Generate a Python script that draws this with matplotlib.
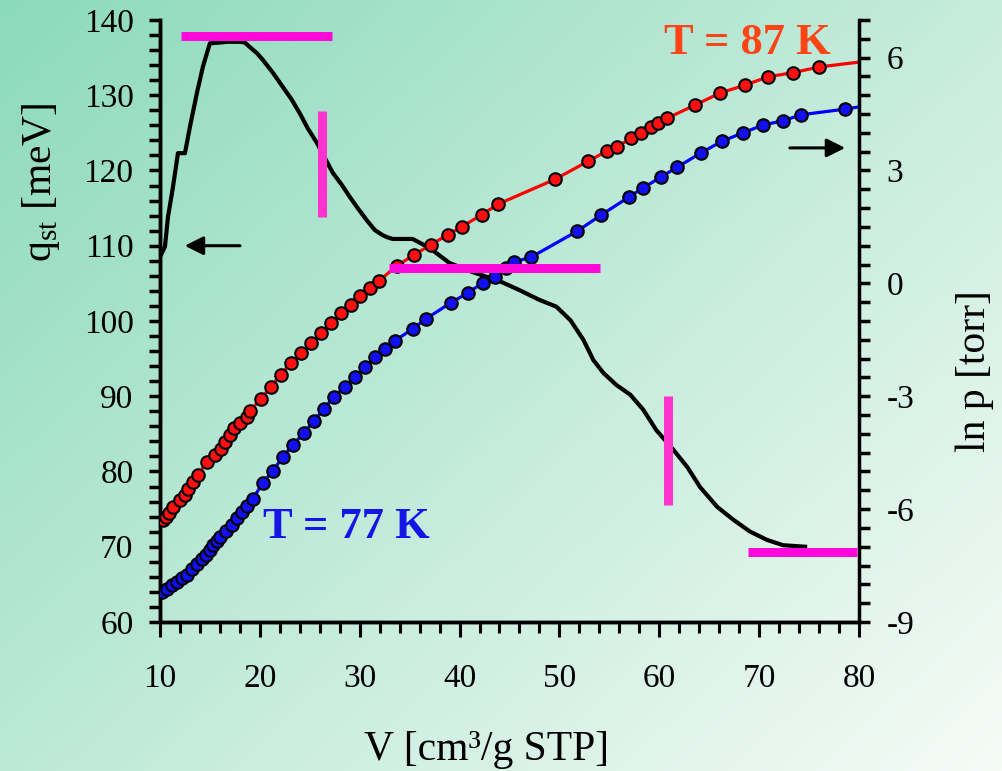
import matplotlib
matplotlib.use("Agg")
import matplotlib.pyplot as plt
from matplotlib.ticker import MultipleLocator
import numpy as np

plt.rcParams['font.family'] = ['Liberation Serif', 'DejaVu Serif']
plt.rcParams['mathtext.fontset'] = 'custom'
plt.rcParams['mathtext.rm'] = 'Liberation Serif'
plt.rcParams['axes.unicode_minus'] = False

# isosteric heat (left axis)
v_q = [10.0, 10.5, 10.8, 11.3, 11.8, 12.5, 13.0, 13.7, 14.3, 15.0, 16.0, 16.7, 18.0,
       18.5, 19.0, 19.7, 20.3, 21.3, 22.3, 23.2, 24.0, 24.8, 25.7, 26.5, 27.3, 28.2,
       29.0, 29.8, 30.7, 31.5, 32.3, 32.8, 33.3, 35.3, 37.0, 39.0, 41.3, 44.0, 46.0,
       48.0, 49.7, 51.1, 52.4, 53.4, 54.4, 55.7, 57.1, 58.4, 59.7, 61.4, 62.8, 64.1,
       65.8, 67.4, 69.1, 70.8, 72.4, 74.6]
q_st = [108.5, 109.9, 113.8, 117.8, 122.3, 122.3, 125.8, 130.3, 133.8, 136.9, 137.0,
        137.1, 137.1, 137.0, 136.4, 135.6, 134.7, 133.0, 131.1, 129.4, 127.6, 125.6,
        123.7, 121.7, 119.7, 118.1, 116.5, 115.0, 113.4, 112.1, 111.4, 111.1, 110.9,
        110.9, 109.7, 107.7, 106.5, 105.3, 104.1, 102.8, 101.9, 100.1, 97.5, 94.8,
        93.1, 91.5, 90.2, 88.2, 85.5, 82.9, 80.6, 77.9, 75.3, 73.6, 72.0, 70.9, 70.2,
        70.0]

# ln p isotherms (right axis)
v_87 = [10.3, 10.6, 10.9, 11.3, 12.0, 12.5, 12.8, 13.3, 13.8, 14.7, 15.5, 16.1, 16.5,
        17.0, 17.4, 18.0, 18.7, 19.0, 20.1, 21.1, 22.1, 23.1, 24.1, 25.1, 26.1, 27.1,
        28.1, 29.1, 30.0, 31.0, 31.9, 33.7, 35.4, 37.1, 38.8, 40.2, 42.2, 43.9, 49.6,
        52.9, 54.8, 55.8, 57.2, 58.2, 59.2, 59.9, 60.8, 63.6, 66.1, 68.6, 70.9, 73.4, 76.0]
lnp_87 = [-6.29, -6.21, -6.10, -5.94, -5.76, -5.62, -5.46, -5.28, -5.09, -4.75, -4.56,
          -4.40, -4.21, -4.03, -3.84, -3.71, -3.55, -3.39, -3.07, -2.75, -2.43, -2.11,
          -1.85, -1.58, -1.32, -1.05, -0.79, -0.57, -0.33, -0.12, 0.06, 0.46, 0.75, 1.02,
          1.29, 1.50, 1.82, 2.11, 2.77, 3.25, 3.52, 3.63, 3.86, 4.00, 4.16, 4.26, 4.39,
          4.74, 5.06, 5.27, 5.49, 5.60, 5.75]
v_87_line = [10.0] + v_87 + [80.0]
lnp_87_line = [-6.5] + lnp_87 + [5.88]

v_77 = [10.2, 10.7, 11.2, 11.7, 12.2, 12.7, 13.2, 13.7, 14.2, 14.6, 15.0, 15.3, 15.7,
        16.0, 16.6, 17.2, 17.7, 18.2, 18.7, 19.3, 20.3, 21.3, 22.3, 23.3, 24.4, 25.4,
        26.4, 27.4, 28.5, 29.5, 30.5, 31.5, 32.5, 33.5, 35.3, 36.6, 39.1, 40.8, 42.3,
        43.6, 44.7, 45.5, 47.2, 51.8, 54.2, 57.0, 58.4, 60.2, 61.8, 64.2, 66.3, 68.4,
        70.4, 72.4, 74.2, 78.6]
lnp_77 = [-8.20, -8.12, -8.01, -7.93, -7.83, -7.75, -7.59, -7.46, -7.32, -7.22, -7.09,
          -6.96, -6.85, -6.74, -6.58, -6.42, -6.23, -6.07, -5.91, -5.73, -5.30, -4.99,
          -4.61, -4.30, -3.98, -3.66, -3.34, -3.02, -2.75, -2.49, -2.22, -1.96, -1.74,
          -1.53, -1.21, -0.95, -0.52, -0.26, 0.01, 0.17, 0.40, 0.57, 0.70, 1.39, 1.82,
          2.30, 2.54, 2.83, 3.09, 3.47, 3.78, 4.00, 4.21, 4.32, 4.48, 4.63]
v_77_line = [10.0] + v_77 + [80.0]
lnp_77_line = [-8.3] + lnp_77 + [4.69]

fig = plt.figure(figsize=(10.03, 7.71), dpi=100)

# diagonal green-to-white background
bg = fig.add_axes([0, 0, 1, 1], zorder=-1)
gx, gy = np.meshgrid(np.linspace(0, 1, 300), np.linspace(0, 1, 240))
t = (gx * 0.55 + gy * 0.45)[..., None]
c0 = np.array([140, 218, 188]) / 255
c1 = np.array([246, 251, 248]) / 255
bg.imshow(c0 + (c1 - c0) * t, aspect='auto', extent=[0, 1, 1, 0])
bg.axis('off')

ax = fig.add_axes([0.1595, 0.1933, 0.6969, 0.7808])
ax.patch.set_alpha(0)
ax2 = ax.twinx()

ax.plot(v_q, q_st, color='black', lw=3, zorder=3)
ax2.plot(v_87_line, lnp_87_line, color='#ff0000', lw=2.3, zorder=2)
ax2.plot(v_87, lnp_87, 'o', ms=9, mfc='#ff1010', mec='black', mew=1.5, zorder=3)
ax2.plot(v_77_line, lnp_77_line, color='#0000ff', lw=2.3, zorder=2)
ax2.plot(v_77, lnp_77, 'o', ms=9, mfc='#1010f0', mec='black', mew=1.5, zorder=3)

ax.set_xlim(10, 80)
ax.set_ylim(60, 140)
ax2.set_ylim(-9, 7)
ax.xaxis.set_major_locator(MultipleLocator(10))
ax.xaxis.set_minor_locator(MultipleLocator(2))
ax.yaxis.set_major_locator(MultipleLocator(10))
ax.yaxis.set_minor_locator(MultipleLocator(2))
ax2.set_yticks([-9, -6, -3, 0, 3, 6])
ax2.yaxis.set_minor_locator(MultipleLocator(0.5))

for a in (ax, ax2):
    a.spines['top'].set_visible(False)
    for s in ('left', 'right', 'bottom'):
        a.spines[s].set_linewidth(2.5)
ax.spines['right'].set_visible(False)

ax.tick_params(axis='x', which='major', direction='out', length=11, width=2.2,
               labelsize=24, pad=19)
ax.tick_params(axis='x', which='minor', direction='out', length=8, width=2.2)
ax.tick_params(axis='y', which='both', direction='out', length=8, width=2.5,
               labelsize=24, pad=11)
ax2.tick_params(axis='y', which='both', direction='out', length=8, width=2.5,
                labelsize=24, pad=12)

# text labels
fig.text(487 / 1003, 1 - 750 / 771, 'V [cm³/g STP]', fontsize=30, ha='center', va='center')
fig.text(41 / 1003, 1 - 182 / 771, r'q$_\mathrm{st}$ [meV]', fontsize=30, rotation=90,
         ha='center', va='center')
fig.text(975 / 1003, 1 - 371 / 771, 'ln p [torr]', fontsize=30, rotation=90,
         ha='center', va='center')
ax2.text(68.8, 6.39, 'T = 87 K', fontsize=32, fontweight='bold', color='#ff4515',
         ha='center', va='center')
ax2.text(28.7, -6.47, 'T = 77 K', fontsize=32, fontweight='bold', color='#1515e8',
         ha='center', va='center')

# arrows pointing to the relevant axis
arrow = dict(arrowstyle='-|>', color='black', lw=2.2, mutation_scale=28)
ax2.annotate('', xy=(12.2, 110.0), xytext=(18.3, 110.0), xycoords=ax.transData,
             textcoords=ax.transData, arrowprops=arrow, zorder=6)
ax2.annotate('', xy=(78.9, 123.0), xytext=(72.8, 123.0), xycoords=ax.transData,
             textcoords=ax.transData, arrowprops=arrow, zorder=6)

# magenta guide bars
ax2.plot([12.1, 27.2], [137.9, 137.9], color='#ff08dc', lw=6.5, solid_capstyle='butt',
         transform=ax.transData, zorder=10)
ax2.plot([26.2, 26.2], [127.9, 113.8], color='#ff33cc', lw=6.5, solid_capstyle='butt',
         transform=ax.transData, zorder=10)
ax2.plot([32.9, 54.1], [107.0, 107.0], color='#ff08dc', lw=6.5, solid_capstyle='butt',
         transform=ax.transData, zorder=10)
ax2.plot([60.9, 60.9], [90.0, 75.5], color='#ff33cc', lw=6.5, solid_capstyle='butt',
         transform=ax.transData, zorder=10)
ax2.plot([68.9, 79.8], [69.3, 69.3], color='#ff08dc', lw=6.5, solid_capstyle='butt',
         transform=ax.transData, zorder=10)

fig.savefig('out.png', dpi=100)
